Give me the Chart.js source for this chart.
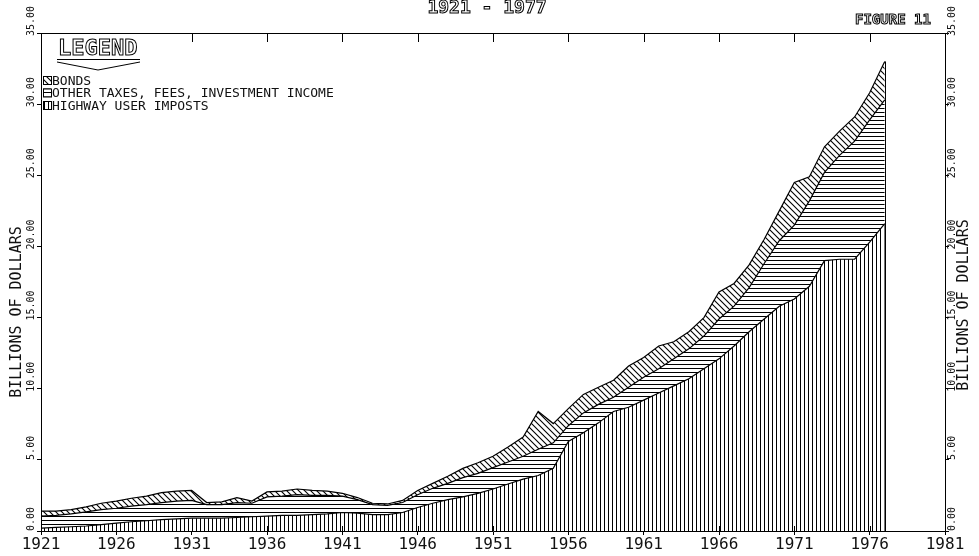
<!DOCTYPE html>
<html>
<head>
<meta charset="utf-8">
<title>Highway receipts 1921 - 1977</title>
<script src="https://cdn.jsdelivr.net/npm/chart.js@4.4.1/dist/chart.umd.min.js"></script>
<style>
html,body{margin:0;padding:0;background:#fff;overflow:hidden;}
canvas{display:block;}
</style>
</head>
<body>
<canvas id="chart" width="979" height="556"></canvas>
<script>
// ---------------- data (billions of dollars) ----------------
const years = [1921,1922,1923,1924,1925,1926,1927,1928,1929,1930,
               1931,1932,1933,1934,1935,1936,1937,1938,1939,1940,
               1941,1942,1943,1944,1945,1946,1947,1948,1949,1950,
               1951,1952,1953,1954,1955,1956,1957,1958,1959,1960,
               1961,1962,1963,1964,1965,1966,1967,1968,1969,1970,
               1971,1972,1973,1974,1975,1976,1977];
const highwayUserImposts = [0.20,0.25,0.30,0.35,0.45,0.55,0.65,0.72,0.80,0.85,
                            0.90,0.90,0.90,0.95,1.00,1.05,1.10,1.10,1.15,1.20,
                            1.30,1.25,1.15,1.15,1.30,1.65,1.95,2.20,2.40,2.65,
                            2.95,3.30,3.65,3.90,4.40,6.30,6.90,7.60,8.40,8.70,
                            9.20,9.70,10.20,10.70,11.40,12.10,13.00,14.00,14.90,15.80,
                            16.30,17.20,19.00,19.10,19.10,20.30,21.60];
const otherTaxesFeesIncome = [0.85,0.85,0.90,1.00,1.05,1.05,1.10,1.13,1.20,1.25,
                              1.25,0.95,0.95,1.05,0.95,1.35,1.35,1.45,1.35,1.30,
                              1.15,0.95,0.70,0.65,0.70,0.90,1.05,1.15,1.35,1.40,
                              1.50,1.55,1.60,1.85,1.80,1.10,1.40,1.30,1.00,1.40,
                              1.60,1.70,1.90,2.10,2.30,2.80,2.80,3.10,3.90,4.60,
                              5.20,6.00,6.20,7.30,8.30,8.60,8.70];
const bonds = [0.35,0.30,0.30,0.35,0.45,0.50,0.55,0.60,0.70,0.70,
               0.70,0.15,0.20,0.35,0.15,0.35,0.35,0.40,0.35,0.30,
               0.20,0.15,0.10,0.10,0.15,0.30,0.35,0.50,0.65,0.75,
               0.80,1.05,1.35,2.65,1.35,1.20,1.30,1.20,1.20,1.50,
               1.40,1.60,1.20,1.20,1.30,1.90,1.60,1.60,1.70,2.10,
               3.00,1.70,1.80,1.70,1.70,1.90,2.70];
const xTickYears = [1921,1926,1931,1936,1941,1946,1951,1956,1961,1966,1971,1976,1981];
const yTickValues = [0,5,10,15,20,25,30,35];
const legendLabels = ['BONDS','OTHER TAXES, FEES, INVESTMENT INCOME','HIGHWAY USER IMPOSTS'];
const titleText = '1921 - 1977';
const figureText = 'FIGURE 11';
const legendHeading = 'LEGEND';
const axisTitle = 'BILLIONS OF DOLLARS';

// ---------------- hatch patterns ----------------
function makePattern(kind) {
  const c = document.createElement('canvas');
  const g = c.getContext('2d');
  g.strokeStyle = '#000';
  g.fillStyle = '#000';
  if (kind === 'v') {
    c.width = 4; c.height = 4;
    g.fillRect(0, 0, 1, 4);
  } else if (kind === 'h') {
    c.width = 4; c.height = 4;
    g.fillRect(0, 0, 4, 1);
  } else {
    c.width = 6; c.height = 6;
    g.lineWidth = 1.1;
    g.beginPath();
    g.moveTo(-1, -1); g.lineTo(7, 7);
    g.moveTo(-1, 5); g.lineTo(1, 7);
    g.moveTo(5, -1); g.lineTo(7, 1);
    g.stroke();
  }
  return g.createPattern(c, 'repeat');
}
const patV = makePattern('v');
const patH = makePattern('h');
const patD = makePattern('d');

const toPoints = arr => years.map((yr, i) => ({x: yr, y: arr[i]}));
const MONO = '"DejaVu Sans Mono", "Liberation Mono", monospace';

// ---------------- decoration plugin ----------------
const decor = {
  id: 'decor',
  beforeDraw(chart) {
    const {ctx, width, height} = chart;
    ctx.save();
    ctx.fillStyle = '#fff';
    ctx.fillRect(0, 0, width, height);
    ctx.restore();
  },
  afterDraw(chart) {
    const {ctx, chartArea: a, scales: {x, y}} = chart;
    ctx.save();
    ctx.strokeStyle = '#000';
    ctx.lineWidth = 1;
    // top frame line
    ctx.beginPath();
    ctx.moveTo(a.left, a.top + 0.5);
    ctx.lineTo(a.right, a.top + 0.5);
    ctx.stroke();
    // inner tick marks at top and bottom (top one hidden behind the legend heading)
    xTickYears.forEach((v, i) => {
      const px = Math.round(x.getPixelForValue(v)) + 0.5;
      ctx.beginPath();
      if (i !== 1) { ctx.moveTo(px, a.top); ctx.lineTo(px, a.top + 9); }
      ctx.moveTo(px, a.bottom); ctx.lineTo(px, a.bottom - 5);
      ctx.stroke();
    });
    // closing edge of the stacked area at the last year
    const n = years.length - 1;
    const total = highwayUserImposts[n] + otherTaxesFeesIncome[n] + bonds[n];
    const ex = Math.round(x.getPixelForValue(years[n])) + 0.5;
    ctx.beginPath();
    ctx.moveTo(ex, y.getPixelForValue(total));
    ctx.lineTo(ex, y.getPixelForValue(0));
    ctx.stroke();

    // title and figure number (outlined plotter lettering)
    ctx.textBaseline = 'alphabetic';
    ctx.lineWidth = 1;
    ctx.font = 'bold 18px ' + MONO;
    ctx.textAlign = 'center';
    ctx.strokeText(titleText, 487, 13);
    ctx.font = 'bold 14px ' + MONO;
    ctx.textAlign = 'left';
    ctx.strokeText(figureText, 855, 24);

    // legend heading with underline and chevron
    ctx.font = 'bold 22px ' + MONO;
    ctx.textAlign = 'left';
    ctx.strokeText(legendHeading, 58, 55);
    ctx.beginPath();
    ctx.moveTo(57, 59.5); ctx.lineTo(140, 59.5);
    ctx.moveTo(57, 62); ctx.lineTo(98, 70); ctx.lineTo(140, 62);
    ctx.stroke();

    // legend entries
    const pats = [patD, patH, patV];
    ctx.font = '13px ' + MONO;
    legendLabels.forEach((lab, i) => {
      const by = 76 + i * 12.5;
      ctx.fillStyle = pats[i];
      ctx.fillRect(43, by, 8, 8);
      ctx.strokeRect(43.5, by + 0.5, 8, 8);
      ctx.fillStyle = '#111';
      ctx.fillText(lab, 52, by + 8.5);
    });

    // axis titles (both read bottom-to-top)
    ctx.font = '15px ' + MONO;
    ctx.fillStyle = '#111';
    ctx.textAlign = 'center';
    ctx.textBaseline = 'middle';
    [[17, 312], [964, 305]].forEach(([tx, ty]) => {
      ctx.save();
      ctx.translate(tx, ty);
      ctx.rotate(-Math.PI / 2);
      ctx.fillText(axisTitle, 0, 0);
      ctx.restore();
    });
    ctx.restore();
  }
};

const yTickOpts = (pad) => ({
  autoSkip: false,
  minRotation: 90,
  maxRotation: 90,
  crossAlign: 'center',
  padding: pad,
  labelOffset: -12,
  color: '#111',
  font: {family: MONO, size: 10},
  callback: v => Number(v).toFixed(2)
});

new Chart(document.getElementById('chart'), {
  type: 'line',
  data: {
    datasets: [
      {label: legendLabels[2], data: toPoints(highwayUserImposts), backgroundColor: patV, fill: 'origin'},
      {label: legendLabels[1], data: toPoints(otherTaxesFeesIncome), backgroundColor: patH, fill: '-1'},
      {label: legendLabels[0], data: toPoints(bonds), backgroundColor: patD, fill: '-1'}
    ]
  },
  options: {
    responsive: false,
    animation: false,
    devicePixelRatio: 1,
    layout: {padding: {top: 33, left: 0, right: 0, bottom: 0}},
    elements: {
      line: {borderColor: '#000', borderWidth: 1.2, tension: 0},
      point: {radius: 0, hoverRadius: 0}
    },
    plugins: {legend: {display: false}, tooltip: {enabled: false}, title: {display: false}},
    scales: {
      x: {
        type: 'linear', position: 'bottom', min: 1921, max: 1981,
        afterBuildTicks: s => { s.ticks = xTickYears.map(v => ({value: v})); },
        afterFit: s => { s.height = 25; },
        ticks: {autoSkip: false, minRotation: 0, maxRotation: 0, padding: 0, color: '#111',
                font: {family: MONO, size: 16}, callback: v => String(v)},
        grid: {drawOnChartArea: false, drawTicks: true, tickLength: 4, color: '#000'},
        border: {display: true, color: '#000', width: 1}
      },
      y: {
        type: 'linear', position: 'left', stacked: true, min: 0, max: 35,
        afterBuildTicks: s => { s.ticks = yTickValues.map(v => ({value: v})); },
        afterFit: s => { s.width = 41; },
        ticks: yTickOpts(-9),
        grid: {drawOnChartArea: false, drawTicks: true, tickLength: 4, color: '#000'},
        border: {display: true, color: '#000', width: 1}
      },
      y2: {
        type: 'linear', position: 'right', min: 0, max: 35,
        afterBuildTicks: s => { s.ticks = yTickValues.map(v => ({value: v})); },
        afterFit: s => { s.width = 34; },
        ticks: yTickOpts(-12),
        grid: {drawOnChartArea: false, drawTicks: true, tickLength: 4, color: '#000'},
        border: {display: true, color: '#000', width: 1}
      }
    }
  },
  plugins: [decor]
});
</script>
</body>
</html>
